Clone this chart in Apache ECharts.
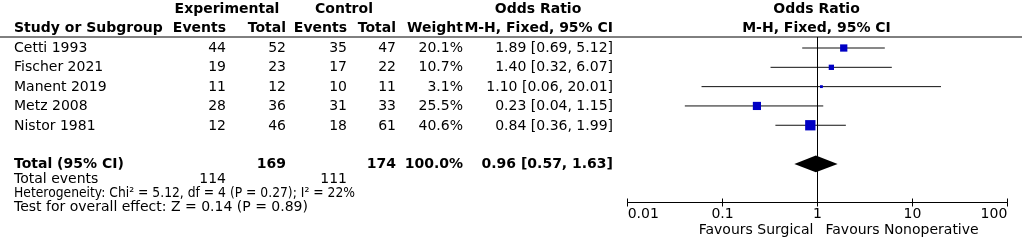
<!DOCTYPE html>
<html>
<head>
<meta charset="utf-8">
<script src="https://cdn.jsdelivr.net/npm/echarts@6/dist/echarts.min.js"></script>
<style>
    html, body {margin: 0; padding: 0; background: #fff;}
    #forest {width: 1026px; height: 241px;}
</style>
</head>
<body>
<div id="forest"></div>
<script>
// 研究数据
var studies = ['Cetti 1993', 'Fischer 2021', 'Manent 2019', 'Metz 2008', 'Nistor 1981'];
var expEvents = [44, 19, 11, 28, 12];
var expTotal = [52, 23, 12, 36, 46];
var ctlEvents = [35, 17, 10, 31, 18];
var ctlTotal = [47, 22, 11, 33, 61];
var weights = [20.1, 10.7, 3.1, 25.5, 40.6];
var orValues = [1.89, 1.40, 1.10, 0.23, 0.84];
var ciLow = [0.69, 0.32, 0.06, 0.04, 0.36];
var ciHigh = [5.12, 6.07, 20.01, 1.15, 1.99];

// 合计
var totalExp = 169;
var totalCtl = 174;
var totalEventsExp = 114;
var totalEventsCtl = 111;
var totalOR = [0.96];
var totalLow = [0.57];
var totalHigh = [1.63];
var heterogeneityText = 'Heterogeneity: Chi² = 5.12, df = 4 (P = 0.27); I² = 22%';
var overallText = 'Test for overall effect: Z = 0.14 (P = 0.89)';

// 坐标轴刻度
var tickValues = [0.01, 0.1, 1, 10, 100];
var tickLabels = ['0.01', '0.1', '1', '10', '100'];

var FONT = '"DejaVu Sans", Verdana, sans-serif';
var rowPx = 19.31;
var yMin = -0.57, yMax = 8.0;

function fmt2(v) { return v.toFixed(2); }

// 文字宽度测量（用于压缩过宽的行）
var measureCtx = document.createElement('canvas').getContext('2d');
function textWidth(text, font) {
    measureCtx.font = font;
    return measureCtx.measureText(text).width;
}

// 表格单元格 (列位置为布局常量)
var col = {study: 14, expEv: 226, expTot: 286, ctlEv: 347, ctlTot: 396, weight: 463, or: 613};
var cells = [];
function cell(x, row, text, align, bold, fitWidth) {
    cells.push({x: x, row: row, text: String(text), align: align, bold: !!bold, fitWidth: fitWidth});
}
// 表头
cell(227, -2, 'Experimental', 'center', true);
cell(344, -2, 'Control', 'center', true);
cell(538, -2, 'Odds Ratio', 'center', true);
cell(col.study, -1, 'Study or Subgroup', 'left', true);
cell(col.expEv, -1, 'Events', 'right', true);
cell(col.expTot, -1, 'Total', 'right', true);
cell(col.ctlEv, -1, 'Events', 'right', true);
cell(col.ctlTot, -1, 'Total', 'right', true);
cell(col.weight, -1, 'Weight', 'right', true);
cell(col.or, -1, 'M-H, Fixed, 95% CI', 'right', true);
cell(816.5, -2, 'Odds Ratio', 'center', true);
cell(816.5, -1, 'M-H, Fixed, 95% CI', 'center', true);
// 各研究行
for (var i = 0; i < studies.length; i++) {
    cell(col.study, i, studies[i], 'left');
    cell(col.expEv, i, expEvents[i], 'right');
    cell(col.expTot, i, expTotal[i], 'right');
    cell(col.ctlEv, i, ctlEvents[i], 'right');
    cell(col.ctlTot, i, ctlTotal[i], 'right');
    cell(col.weight, i, weights[i].toFixed(1) + '%', 'right');
    cell(col.or, i, fmt2(orValues[i]) + ' [' + fmt2(ciLow[i]) + ', ' + fmt2(ciHigh[i]) + ']', 'right');
}
// 合计行
var totalRow = 6;
cell(col.study, totalRow, 'Total (95% CI)', 'left', true);
cell(col.expTot, totalRow, totalExp, 'right', true);
cell(col.ctlTot, totalRow, totalCtl, 'right', true);
cell(col.weight, totalRow, '100.0%', 'right', true);
cell(col.or, totalRow, fmt2(totalOR[0]) + ' [' + fmt2(totalLow[0]) + ', ' + fmt2(totalHigh[0]) + ']', 'right', true);
cell(col.study, 6.76, 'Total events', 'left');
cell(col.expEv, 6.76, totalEventsExp, 'right');
cell(col.ctlEv, 6.76, totalEventsCtl, 'right');
cell(col.study, 7.48, heterogeneityText, 'left', false, 341);
cell(col.study, 8.2, overallText, 'left');

var chart = echarts.init(document.getElementById('forest'));

var studyData = [];
for (var i = 0; i < studies.length; i++) {
    studyData.push([orValues[i], i, ciLow[i], ciHigh[i], weights[i]]);
}

var option = {
    animation: false,
    backgroundColor: '#fff',
    grid: [
        {left: 0, right: 0, top: 1, bottom: 37.5},
        {left: 627.7, right: 18.7, top: 37, bottom: 38.5}
    ],
    xAxis: [
        {gridIndex: 0, type: 'value', min: 0, max: 1026, show: false},
        {
            gridIndex: 1, type: 'log', logBase: 10, min: 0.01, max: 100,
            position: 'bottom',
            axisLine: {show: true, onZero: false, lineStyle: {color: '#000', width: 1}},
            axisTick: {show: true, length: 4, lineStyle: {color: '#000'}},
            splitLine: {show: false},
            axisLabel: {
                color: '#000', fontFamily: FONT, fontSize: 14, margin: 5,
                alignMinLabel: 'left', alignMaxLabel: 'right',
                formatter: function (v) {
                    for (var k = 0; k < tickValues.length; k++) {
                        if (Math.abs(Math.log10(v) - Math.log10(tickValues[k])) < 1e-6) return tickLabels[k];
                    }
                    return '';
                }
            }
        },
        {
            gridIndex: 1, type: 'log', logBase: 10, min: 0.01, max: 100,
            position: 'bottom',
            axisLine: {show: false, onZero: false},
            axisTick: {show: true, inside: true, length: 4, lineStyle: {color: '#000'}},
            axisLabel: {show: false},
            splitLine: {show: false}
        }
    ],
    yAxis: [
        {gridIndex: 0, type: 'value', inverse: true, min: yMin - 36 / rowPx, max: yMax, show: false},
        {gridIndex: 1, type: 'value', inverse: true, min: yMin, max: yMax, show: false}
    ],
    graphic: [
        {type: 'line', shape: {x1: 0, y1: 37, x2: 1022, y2: 37}, style: {stroke: '#000', lineWidth: 1}}
    ],
    series: [
        {
            // 表格文字
            type: 'custom',
            xAxisIndex: 0, yAxisIndex: 0,
            silent: true,
            data: cells.map(function (c) { return [c.x, c.row]; }),
            renderItem: function (params, api) {
                var c = cells[params.dataIndex];
                var p = api.coord([api.value(0), api.value(1)]);
                var font = (c.bold ? 'bold ' : '') + '14px ' + FONT;
                var sx = 1;
                if (c.fitWidth) {
                    var w = textWidth(c.text, font);
                    if (w > c.fitWidth) sx = c.fitWidth / w;
                }
                return {
                    type: 'text',
                    x: p[0], y: p[1],
                    scaleX: sx,
                    style: {
                        text: c.text,
                        fill: '#000',
                        align: c.align,
                        verticalAlign: 'middle',
                        font: font
                    }
                };
            }
        },
        {
            // 置信区间 + 方块
            type: 'custom',
            xAxisIndex: 1, yAxisIndex: 1,
            silent: true,
            data: studyData,
            renderItem: function (params, api) {
                var pLow = api.coord([api.value(2), api.value(1)]);
                var pHigh = api.coord([api.value(3), api.value(1)]);
                var pc = api.coord([api.value(0), api.value(1)]);
                var s = 1.62 * Math.sqrt(api.value(4));
                return {
                    type: 'group',
                    children: [
                        {type: 'line', shape: {x1: pLow[0], y1: pLow[1], x2: pHigh[0], y2: pHigh[1]},
                            style: {stroke: '#111', lineWidth: 1}},
                        {type: 'rect', shape: {x: pc[0] - s / 2, y: pc[1] - s / 2, width: s, height: s},
                            style: {fill: '#0000c4'}}
                    ]
                };
            },
            markLine: {
                silent: true,
                symbol: 'none',
                label: {show: false},
                lineStyle: {color: '#000', width: 1, type: 'solid'},
                data: [{xAxis: 1}]
            }
        },
        {
            // 合计菱形
            type: 'custom',
            xAxisIndex: 1, yAxisIndex: 1,
            silent: true,
            data: [[totalOR[0], totalRow, totalLow[0], totalHigh[0]]],
            renderItem: function (params, api) {
                var pl = api.coord([api.value(2), api.value(1)]);
                var pr = api.coord([api.value(3), api.value(1)]);
                var pc = api.coord([api.value(0), api.value(1)]);
                var h = 8.3;
                return {
                    type: 'polygon',
                    shape: {points: [[pl[0], pl[1]], [pc[0], pc[1] - h], [pr[0], pr[1]], [pc[0], pc[1] + h]]},
                    style: {fill: '#000'}
                };
            }
        },
        {
            // 底部说明
            type: 'custom',
            xAxisIndex: 1, yAxisIndex: 1,
            silent: true,
            data: [[1, 9.46]],
            renderItem: function (params, api) {
                var p = api.coord([api.value(0), api.value(1)]);
                var st = {fill: '#000', verticalAlign: 'middle', font: '14px ' + FONT};
                return {
                    type: 'group',
                    children: [
                        {type: 'text', x: p[0] - 4, y: p[1], style: echarts.util.extend({text: 'Favours Surgical', align: 'right'}, st)},
                        {type: 'text', x: p[0] + 8, y: p[1], style: echarts.util.extend({text: 'Favours Nonoperative', align: 'left'}, st)}
                    ]
                };
            }
        }
    ]
};
chart.setOption(option);
</script>
</body>
</html>
